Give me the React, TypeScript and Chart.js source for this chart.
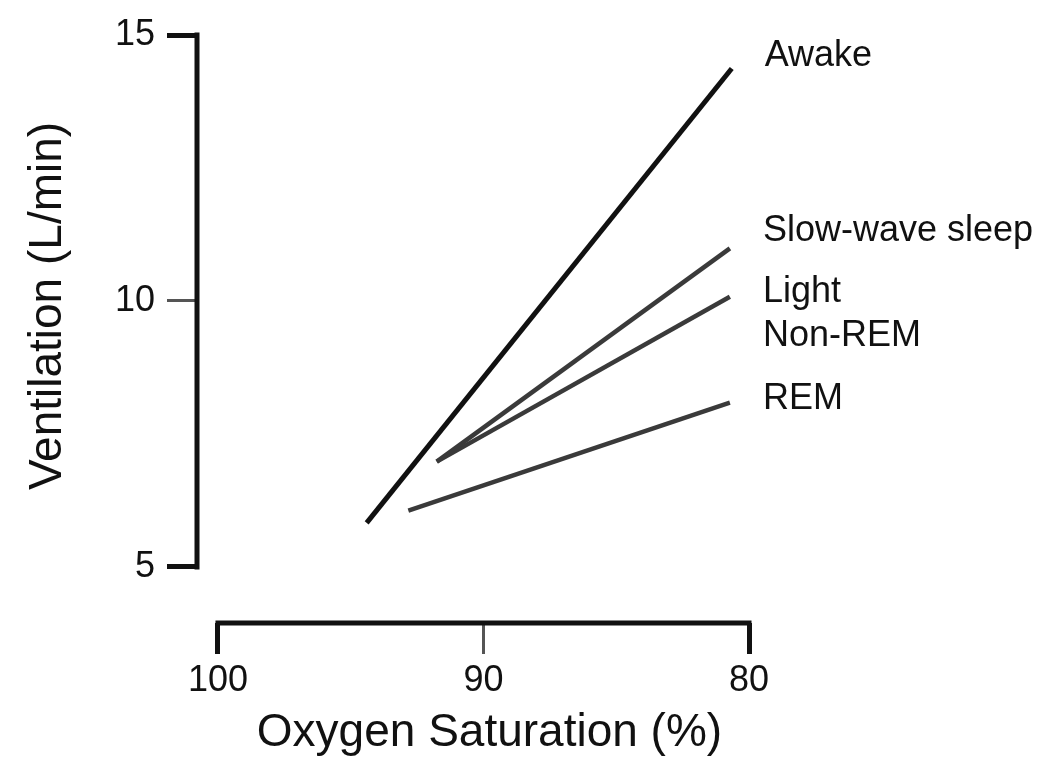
import React, { useEffect, useRef } from "react";
import { Chart, registerables } from "chart.js";

Chart.register(...registerables);

// ---- data ----
const xTickValues = [100, 90, 80];
const yTickValues = [5, 10, 15];
const majorTicks = [100, 80, 5, 15];

const seriesNames = ["Awake", "Slow-wave sleep", "Light Non-REM", "REM"];
const awake = [
  { x: 94.4, y: 5.83 },
  { x: 80.65, y: 14.37 },
];
const slowWave = [
  { x: 91.76, y: 6.98 },
  { x: 80.72, y: 10.99 },
];
const lightNonRem = [
  { x: 91.76, y: 6.98 },
  { x: 80.72, y: 10.08 },
];
const rem = [
  { x: 92.83, y: 6.06 },
  { x: 80.72, y: 8.09 },
];

const xTitle = "Oxygen Saturation (%)";
const yTitle = "Ventilation (L/min)";

// ---- styling / layout ----
const FONT = '"Liberation Sans", Arial, Helvetica, sans-serif';
const labelLines: Record<string, string[]> = {
  Awake: ["Awake"],
  "Slow-wave sleep": ["Slow-wave sleep"],
  "Light Non-REM": ["Light", "Non-REM"],
  REM: ["REM"],
};
const labelDy: Record<string, number> = {
  Awake: -3,
  "Slow-wave sleep": -7,
  "Light Non-REM": 5,
  REM: 6,
};

const decorPlugin = {
  id: "decor",
  afterDraw(chart: any) {
    const ctx = chart.ctx as CanvasRenderingContext2D;
    const xs = chart.scales.x;
    const ys = chart.scales.y;
    const area = chart.chartArea;
    ctx.save();
    ctx.strokeStyle = "#111";
    ctx.lineWidth = 5;
    ctx.lineCap = "butt";
    // y axis line (5..15)
    const yTop = ys.getPixelForValue(yTickValues[yTickValues.length - 1]);
    const yBot = ys.getPixelForValue(yTickValues[0]);
    ctx.beginPath();
    ctx.moveTo(area.left, yTop - 2.5);
    ctx.lineTo(area.left, yBot + 2.5);
    ctx.stroke();
    // x axis line (100..80)
    const xL = xs.getPixelForValue(xTickValues[0]);
    const xR = xs.getPixelForValue(xTickValues[xTickValues.length - 1]);
    ctx.beginPath();
    ctx.moveTo(xL - 2.5, area.bottom);
    ctx.lineTo(xR + 2.5, area.bottom);
    ctx.stroke();

    // series labels
    ctx.fillStyle = "#111";
    ctx.font = `36px ${FONT}`;
    ctx.textAlign = "left";
    ctx.textBaseline = "alphabetic";
    chart.data.datasets.forEach((ds: any) => {
      const last = ds.data[ds.data.length - 1];
      const px = xs.getPixelForValue(last.x);
      const py = ys.getPixelForValue(last.y);
      const lines = labelLines[ds.label] || [ds.label];
      lines.forEach((t, i) => {
        ctx.fillText(t, px + 33, py + labelDy[ds.label] + i * 44);
      });
    });

    // axis titles
    ctx.font = `46px ${FONT}`;
    ctx.textAlign = "center";
    ctx.fillText(xTitle, (xL + xR) / 2 + 6, 746);
    ctx.save();
    ctx.translate(61, (yTop + yBot) / 2 + 5);
    ctx.rotate(-Math.PI / 2);
    ctx.fillText(yTitle, 0, 0);
    ctx.restore();
    ctx.restore();
  },
};

export default function App() {
  const ref = useRef<HTMLCanvasElement | null>(null);
  useEffect(() => {
    if (!ref.current) return;
    const tickColor = (c: any) =>
      c.tick && majorTicks.includes(c.tick.value) ? "#111" : "#555";
    const tickWidth = (c: any) =>
      c.tick && majorTicks.includes(c.tick.value) ? 5 : 3;
    const chart = new Chart(ref.current, {
      type: "scatter",
      data: {
        datasets: [
          { label: seriesNames[0], data: awake, borderColor: "#111", borderWidth: 5 },
          { label: seriesNames[1], data: slowWave, borderColor: "#3a3a3a", borderWidth: 4.5 },
          { label: seriesNames[2], data: lightNonRem, borderColor: "#3a3a3a", borderWidth: 4.5 },
          { label: seriesNames[3], data: rem, borderColor: "#3a3a3a", borderWidth: 4.5 },
        ].map((d) => ({ ...d, showLine: true, pointRadius: 0, pointHoverRadius: 0, fill: false })),
      },
      options: {
        animation: false,
        responsive: false,
        devicePixelRatio: 1,
        events: [],
        layout: { padding: { left: 0, top: 35, right: 301, bottom: 0 } },
        plugins: { legend: { display: false }, tooltip: { enabled: false } },
        scales: {
          x: {
            type: "linear",
            reverse: true,
            min: 80,
            max: 100.79,
            afterBuildTicks: (s: any) => {
              s.ticks = xTickValues.map((v) => ({ value: v }));
            },
            afterFit: (s: any) => {
              s.height = 142;
            },
            border: { display: false },
            grid: {
              drawOnChartArea: false,
              drawTicks: true,
              tickLength: 31,
              tickColor,
              tickWidth,
            },
            ticks: {
              color: "#111",
              padding: 5,
              maxRotation: 0,
              autoSkip: false,
              font: { family: FONT, size: 36 },
              callback: (v: any) => String(v),
            },
          },
          y: {
            type: "linear",
            min: 3.947,
            max: 15,
            afterBuildTicks: (s: any) => {
              s.ticks = yTickValues.map((v) => ({ value: v }));
            },
            afterFit: (s: any) => {
              s.width = 197;
            },
            border: { display: false },
            grid: {
              drawOnChartArea: false,
              drawTicks: true,
              tickLength: 30,
              tickColor,
              tickWidth,
            },
            ticks: {
              color: "#111",
              padding: 12,
              autoSkip: false,
              font: { family: FONT, size: 36 },
              callback: (v: any) => String(v),
            },
          },
        },
      },
      plugins: [decorPlugin],
    });
    return () => chart.destroy();
  }, []);
  return (
    <div style={{ position: "fixed", left: 0, top: 0, width: 1050, height: 765, background: "#fff" }}>
      <canvas ref={ref} width={1050} height={765} style={{ display: "block" }} />
    </div>
  );
}
